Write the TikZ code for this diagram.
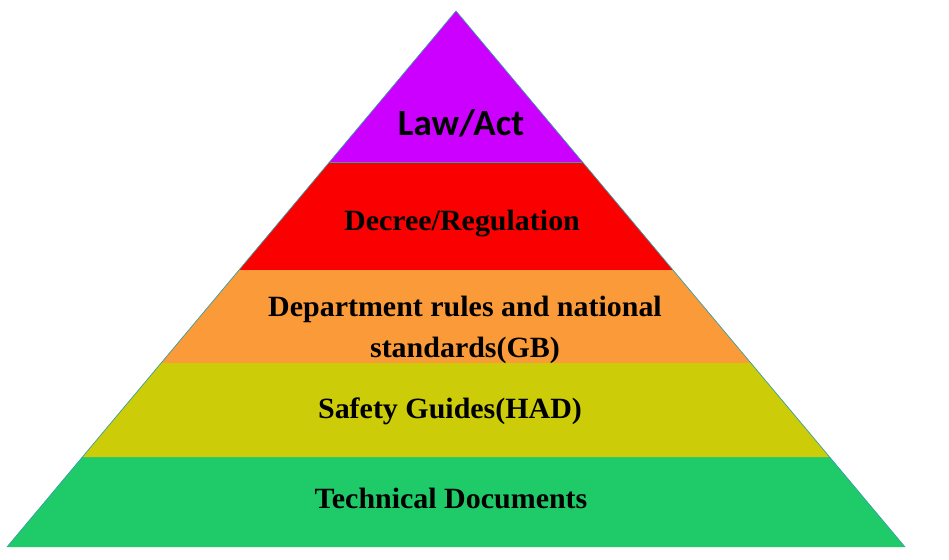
\documentclass[tikz,border=0pt]{standalone}
\usepackage{fontspec}
\setmainfont{Liberation Serif}
\newfontfamily\lawfont{Carlito}
\usetikzlibrary{calc}
\definecolor{cPurple}{HTML}{CC00FF}
\definecolor{cRed}{HTML}{FA0000}
\definecolor{cOrange}{HTML}{FA9A38}
\definecolor{cYellow}{HTML}{CCCC08}
\definecolor{cGreen}{HTML}{1ECB68}
\definecolor{cEdge}{HTML}{3A9EA6}
\begin{document}
\begin{tikzpicture}[x=1pt,y=1pt,
  band/.style={draw=cEdge,line width=0.7pt,line join=miter},
  lbl/.style={font=\bfseries\fontsize{28}{39}\selectfont,align=center,text=black,xscale=1.07,yscale=1.05,inner sep=0pt}]
\useasboundingbox (0,0) rectangle (949,559);
\coordinate (A) at (456,548);
\coordinate (L) at (7,12);
\coordinate (R) at (905,12);
\coordinate (L1) at ($(A)!0.2817!(L)$);
\coordinate (R1) at ($(A)!0.2817!(R)$);
\coordinate (L2) at ($(A)!0.4832!(L)$);
\coordinate (R2) at ($(A)!0.4832!(R)$);
\coordinate (L3) at ($(A)!0.6567!(L)$);
\coordinate (R3) at ($(A)!0.6567!(R)$);
\coordinate (L4) at ($(A)!0.8321!(L)$);
\coordinate (R4) at ($(A)!0.8321!(R)$);
\fill[cGreen] (L4) -- (R4) -- (R) -- (L) -- cycle;
\fill[cYellow] (L3) -- (R3) -- (R4) -- (L4) -- cycle;
\fill[cOrange] (L2) -- (R2) -- (R3) -- (L3) -- cycle;
\fill[cRed] (L1) -- (R1) -- (R2) -- (L2) -- cycle;
\fill[cPurple] (A) -- (R1) -- (L1) -- cycle;
\draw[band] (L1) -- (R1);
\draw[band] (A) -- (L) (A) -- (R);
\node[font=\lawfont\bfseries\fontsize{37}{40}\selectfont,inner sep=0pt] (law) at (461,436) {Law/Act};
\node[lbl] (decree) at (462,335) {Decree/Regulation};
\node[lbl] (dept) at (465,229) {Department rules and national\\standards(GB)};
\node[lbl] (safety) at (450,148) {Safety Guides(HAD)};
\node[lbl] (tech) at (451,61) {Technical Documents};
\end{tikzpicture}
\end{document}
